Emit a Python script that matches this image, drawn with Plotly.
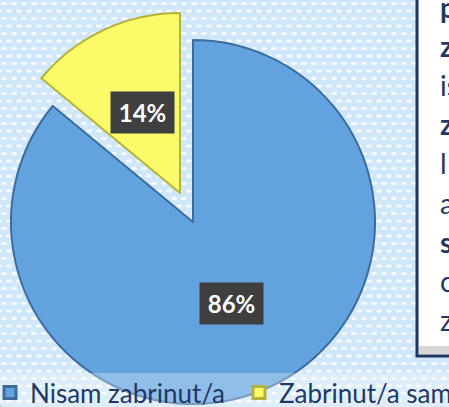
import base64
import math
import plotly.graph_objects as go

# ---- data ----
labels = ["Nisam zabrinut/a", "Zabrinut/a sam"]
values = [86, 14]
slice_colors = ["#62a3df", "#fbfb6a"]
edge_colors = ["#3d6c9c", "#b3b33a"]
box_words = ["p", "z", "is", "z", "l", "a", "s", "c", "z"]
box_bold = [True, True, False, True, False, False, True, False, False]

W, H = 449, 407
NAVY = "#1f3864"
FONT = "Lato"

# pie geometry (pixels)
BLUE_C, BLUE_R = (193, 222), 182
YEL_C, YEL_R = (180, 193), 180


def domain(c, r):
    cx, cy = c
    return dict(x=[max(0, (cx - r) / W), min(1, (cx + r) / W)],
                y=[max(0, 1 - (cy + r) / H), min(1, 1 - (cy - r) / H)])


# background pattern (light blue with small white dashes)
svg = f'''<svg xmlns="http://www.w3.org/2000/svg" width="{W}" height="{H}">
<defs><pattern id="p" width="10" height="15" patternUnits="userSpaceOnUse">
<rect width="10" height="15" fill="#cfe7f8"/>
<rect x="1" y="2" width="6" height="3" rx="1.5" fill="#f3f9fe"/>
<rect x="6" y="9.5" width="6" height="3" rx="1.5" fill="#f3f9fe"/>
<rect x="-4" y="9.5" width="6" height="3" rx="1.5" fill="#f3f9fe"/>
</pattern></defs>
<rect width="{W}" height="{H}" fill="url(#p)"/></svg>'''
bg_uri = "data:image/svg+xml;base64," + base64.b64encode(svg.encode()).decode()

fig = go.Figure()

# legend-only pies (tiny), one per legend so both entries sit on one row
for i, lg in enumerate(["legend", "legend2"]):
    fig.add_trace(go.Pie(
        labels=[labels[i]], values=[values[i]], sort=False,
        marker=dict(colors=[slice_colors[i]], line=dict(color=edge_colors[i], width=3)),
        textinfo="none", hoverinfo="skip", showlegend=True, legend=lg,
        domain=dict(x=[0, 0.001], y=[0, 0.001]),
    ))

# main (blue) slice
fig.add_trace(go.Pie(
    labels=labels, values=values, sort=False, direction="clockwise", rotation=0,
    marker=dict(colors=[slice_colors[0], "rgba(0,0,0,0)"],
                line=dict(color=[edge_colors[0], "rgba(0,0,0,0)"], width=[2, 0])),
    textinfo="none", hoverinfo="label+percent", showlegend=False,
    domain=domain(BLUE_C, BLUE_R),
))

# exploded (yellow) slice
fig.add_trace(go.Pie(
    labels=labels, values=values, sort=False, direction="clockwise", rotation=0,
    marker=dict(colors=["rgba(0,0,0,0)", slice_colors[1]],
                line=dict(color=["rgba(0,0,0,0)", edge_colors[1]], width=[0, 2])),
    textinfo="none", hoverinfo="label+percent", showlegend=False,
    domain=domain(YEL_C, YEL_R),
))

# cropped text box on the right: text trace on a hidden pixel-space axis,
# clipped at the figure edge like the reference
box_y = [11 + 39.1 * k for k in range(len(box_words))]
fig.add_trace(go.Scatter(
    x=[440] * len(box_words), y=box_y, mode="text",
    text=[f"<b>{w}</b>" if b else w for w, b in zip(box_words, box_bold)],
    textposition="middle right", cliponaxis=True,
    textfont=dict(family=FONT, size=28, color=NAVY),
    hoverinfo="skip", showlegend=False,
))

# percentage labels in dark boxes, placed on slice bisectors
total = sum(values)
annotations = []
cum = 0
for i, v in enumerate(values):
    theta = math.radians(360 * (cum + v / 2) / total)
    cum += v
    (cx, cy), r = (BLUE_C, BLUE_R) if i == 0 else (YEL_C, YEL_R)
    px = cx + 0.495 * r * math.sin(theta)
    py = cy - 0.495 * r * math.cos(theta)
    annotations.append(dict(
        x=px / W, y=1 - py / H, xref="paper", yref="paper",
        text=f"<b>{round(100 * v / total)}%</b>", showarrow=False,
        font=dict(family=FONT, size=24, color="white"),
        bgcolor="#3f3f3f", width=59, height=37, borderpad=2,
        xanchor="center", yanchor="middle",
    ))

shapes = [
    dict(type="rect", xref="paper", yref="paper",
         x0=417 / W, x1=470 / W, y0=1 - 356 / H, y1=1.05,
         fillcolor="white", line=dict(color="#1e3560", width=3), layer="below"),
    dict(type="rect", xref="paper", yref="paper",
         x0=419 / W, x1=470 / W, y0=1 - 354 / H, y1=1 - 346 / H,
         fillcolor="rgba(140,140,140,0.35)", line=dict(width=0), layer="below"),
    # translucent legend band across the bottom
    dict(type="rect", xref="paper", yref="paper",
         x0=0, x1=1, y0=0, y1=1 - 373 / H,
         fillcolor="rgba(255,255,255,0.3)", line=dict(width=0), layer="above"),
]

legend_style = dict(orientation="h", y=-9 / H, xanchor="left", yanchor="bottom",
                    font=dict(family=FONT, size=26, color=NAVY),
                    bgcolor="rgba(0,0,0,0)")

hidden_axis = dict(visible=False, showgrid=False, zeroline=False, fixedrange=True)
fig.update_layout(
    width=W, height=H,
    margin=dict(l=0, r=0, t=0, b=0, autoexpand=False),
    paper_bgcolor="#cfe7f8", plot_bgcolor="rgba(0,0,0,0)",
    images=[dict(source=bg_uri, xref="paper", yref="paper", x=0, y=1,
                 sizex=1, sizey=1, sizing="stretch", layer="below")],
    xaxis=dict(range=[0, W], **hidden_axis),
    yaxis=dict(range=[H, 0], **hidden_axis),
    annotations=annotations,
    shapes=shapes,
    legend=dict(x=-10 / W, **legend_style),
    legend2=dict(x=239 / W, **legend_style),
    font=dict(family=FONT),
)

fig.write_html("out.html", config={"displayModeBar": False},
               post_script="document.body.style.margin='0';")
